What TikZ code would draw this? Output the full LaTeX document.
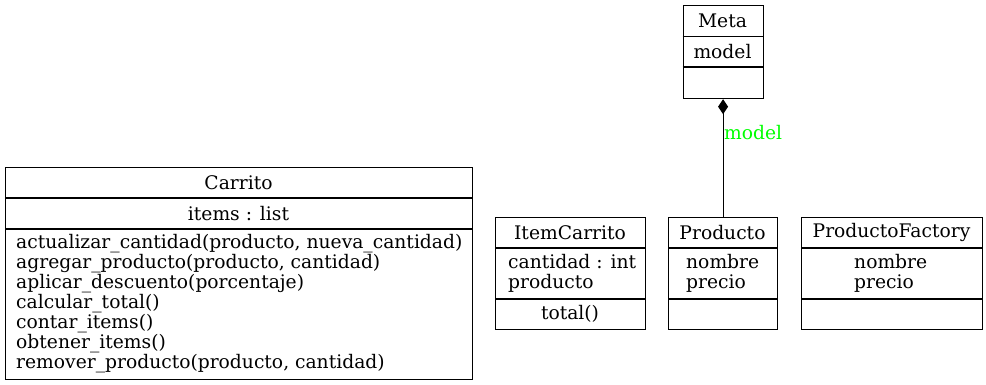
\documentclass[tikz,border=0pt]{standalone}
\usepackage{fontspec}
\setmainfont{DejaVu Serif}
\usetikzlibrary{arrows.meta}
\definecolor{lblgreen}{RGB}{0,255,0}
\begin{document}
\begin{tikzpicture}[x=1pt,y=-1pt,
  every node/.style={font=\fontsize{18.7}{20}\selectfont},
  umlbox/.style={draw,line width=1.2pt,inner sep=0pt,anchor=north west},
  txt/.style={inner sep=0pt},
  block/.style={inner sep=0pt,align=left,anchor=west},
  divider/.style={line width=1.2pt}]
\useasboundingbox (0,0) rectangle (986,385);

% Carrito
\node[umlbox,minimum width=467pt,minimum height=212pt] (carrito) at (5,167) {};
\draw[divider] (5,198) -- (472,198);
\draw[divider] (5,229) -- (472,229);
\node[txt] (carritoT) at (238.5,182.5) {Carrito};
\node[txt] (carritoA) at (238.5,213.5) {items : list};
\node[block] (carritoM) at (16,304) {actualizar\_cantidad(producto, nueva\_cantidad)\\agregar\_producto(producto, cantidad)\\aplicar\_descuento(porcentaje)\\calcular\_total()\\contar\_items()\\obtener\_items()\\remover\_producto(producto, cantidad)};

% ItemCarrito
\node[umlbox,minimum width=150pt,minimum height=112pt] (item) at (495,217) {};
\draw[divider] (495,248) -- (645,248);
\draw[divider] (495,299) -- (645,299);
\node[txt] (itemT) at (570,232.5) {ItemCarrito};
\node[block] (itemA) at (508,273.5) {cantidad : int\\producto};
\node[txt] (itemM) at (570,314) {total()};

% Producto
\node[umlbox,minimum width=109pt,minimum height=112pt] (producto) at (668,217) {};
\draw[divider] (668,248) -- (777,248);
\draw[divider] (668,299) -- (777,299);
\node[txt] (productoT) at (722.5,232.5) {Producto};
\node[block] (productoA) at (686,273.5) {nombre\\precio};

% ProductoFactory
\node[umlbox,minimum width=181pt,minimum height=112pt] (factory) at (801,217) {};
\draw[divider] (801,248) -- (982,248);
\draw[divider] (801,299) -- (982,299);
\node[txt] (factoryT) at (891.5,232.5) {ProductoFactory};
\node[block] (factoryA) at (854,273.5) {nombre\\precio};

% Meta
\node[umlbox,minimum width=80pt,minimum height=93pt] (meta) at (682.5,5) {};
\draw[divider] (682.5,36.5) -- (762.5,36.5);
\draw[divider] (682.5,67) -- (762.5,67);
\node[txt] (metaT) at (722.5,21) {Meta};
\node[txt] (metaA) at (722.5,52) {model};

% composition Meta <>-- Producto
\draw[line width=1.2pt,{Diamond[length=15pt,width=10pt]}-] (meta.south) -- (producto.north)
  node[pos=0.28,right,inner sep=0.5pt,text=lblgreen] (edgelbl) {model};
\end{tikzpicture}
\end{document}
